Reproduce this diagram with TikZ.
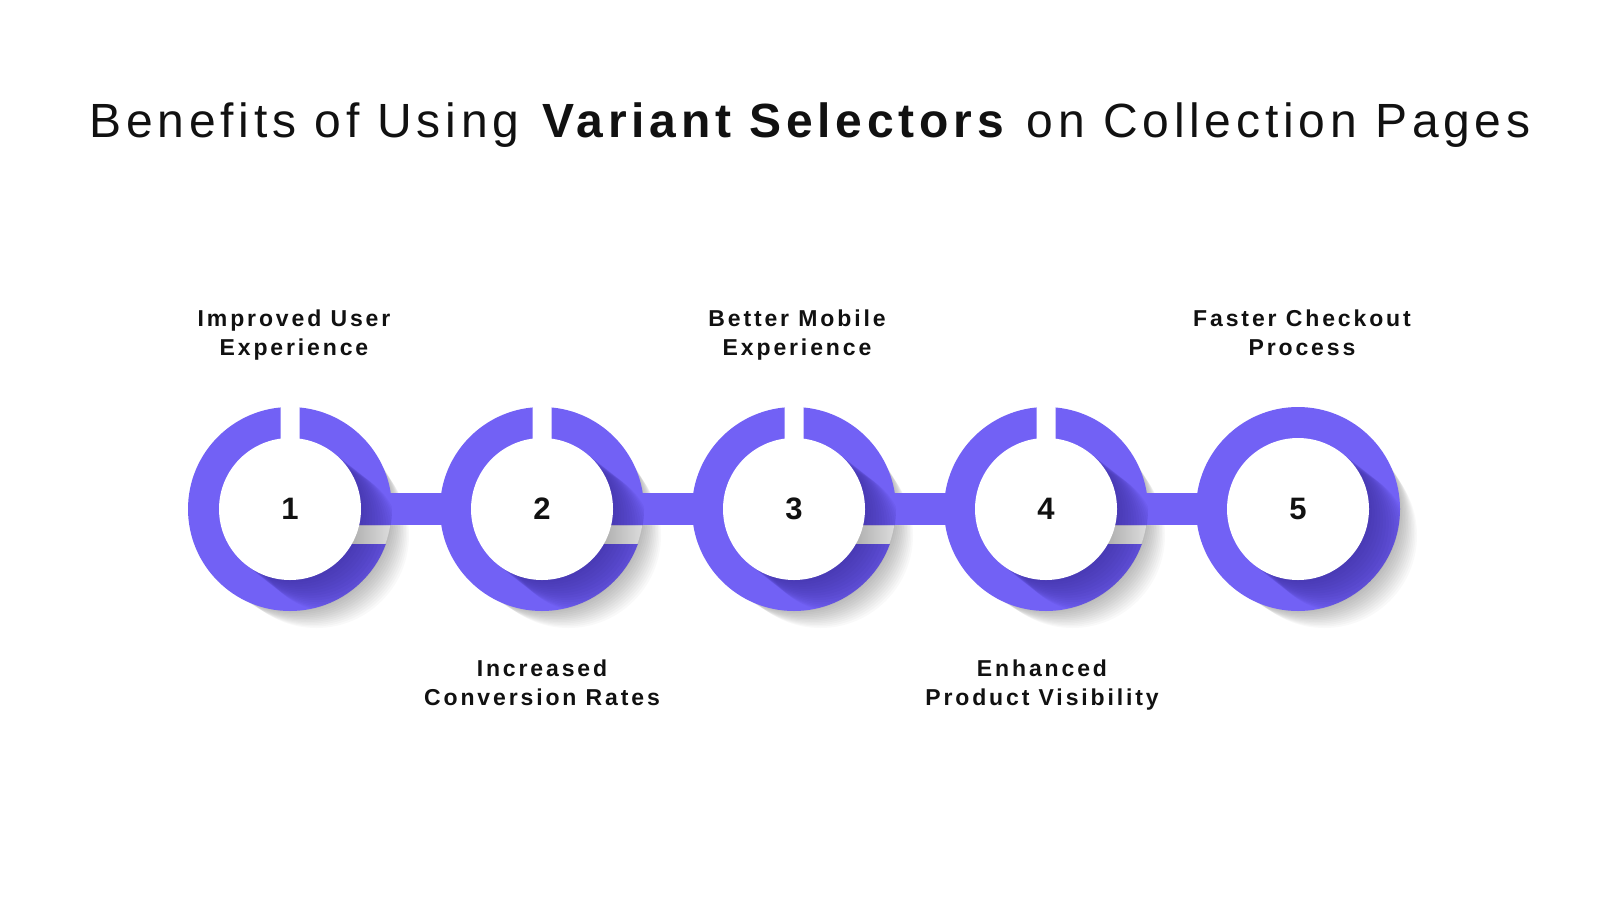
\documentclass[tikz,border=0pt]{standalone}
\usepackage{fontspec}
\setmainfont{Liberation Sans}
\usetikzlibrary{calc}
\definecolor{ringc}{HTML}{7261F5}
\definecolor{shadc}{HTML}{33268F}
\definecolor{txt}{HTML}{111111}
\tikzset{
  lab/.style={align=center, text=txt, font=\bfseries\fontsize{23}{29}\selectfont\addfontfeatures{LetterSpace=12.5}, inner sep=0pt},
  numnode/.style={circle, fill=white, minimum size=142pt, inner sep=0pt, text=txt, font=\bfseries\fontsize{31}{36}\selectfont},
  barline/.style={draw=ringc, line width=32pt},
}
\begin{document}
\begin{tikzpicture}[x=1pt,y=-1pt]
\useasboundingbox (0,0) rectangle (1600,900);
\fill[white] (0,0) rectangle (1600,900);
\node[anchor=base, inner sep=0pt, text=txt, font=\fontsize{48}{52}\selectfont\addfontfeatures{LetterSpace=10}] (title) at (810,137) {Benefits of Using \textbf{Variant Selectors} on Collection Pages};
\foreach \i/\x in {1/290,2/542,3/794,4/1046,5/1298} \coordinate (c\i) at (\x,509);
% outer soft shadows
\foreach \i in {1,...,5} {
  \foreach \k in {1,...,12} {
    \fill[black,opacity=0.022] ($(c\i)+(2.2*\k,2.2*\k)$) circle ({101-0.7*\k});
  }
}
% keep the top gaps clean, soften the side gaps
\foreach \i in {1,...,4} {
  \fill[white] ($(c\i)+(-10,-110)$) rectangle ($(c\i)+(10,-60)$);
  \begin{scope}
    \clip (c\i) circle (101.5);
    \shade[left color=black!32, right color=black!12] ($(c\i)+(60,16)$) rectangle ($(c\i)+(104,35)$);
  \end{scope}
}
% bars
\foreach \i/\j in {1/2,2/3,3/4,4/5} \draw[barline] (c\i) -- (c\j);
% rings with gaps
\foreach \i in {1,...,4} {
  \begin{scope}[even odd rule]
    \clip (-10,-10) rectangle (1610,910)
      ($(c\i)+(-9.5,-115)$) rectangle ($(c\i)+(9.5,0)$)
      ($(c\i)+(0,16)$) rectangle ($(c\i)+(115,35)$);
    \fill[ringc] (c\i) circle (102);
    \clip (c\i) circle (102);
    \foreach \k in {1,...,14} \fill[shadc,opacity=0.06] ($(c\i)+(2.8*\k,2.2*\k)$) circle (71);
  \end{scope}
}
\begin{scope}
  \fill[ringc] (c5) circle (102);
  \clip (c5) circle (102);
  \foreach \k in {1,...,14} \fill[shadc,opacity=0.06] ($(c5)+(2.8*\k,2.2*\k)$) circle (71);
\end{scope}
% inner circles with numbers
\foreach \i in {1,...,5} \node[numnode] (n\i) at (c\i) {\i};
% labels (base = baseline of the last line)
\node[lab, anchor=base] (l1) at (294,355) {Improved User\\Experience};
\node[lab, anchor=base] (l2) at (542,705) {Increased\\Conversion Rates};
\node[lab, anchor=base] (l3) at (797,355) {Better Mobile\\Experience};
\node[lab, anchor=base] (l4) at (1042,705) {Enhanced\\Product Visibility};
\node[lab, anchor=base] (l5) at (1302,355) {Faster Checkout\\Process};
\end{tikzpicture}
\end{document}
